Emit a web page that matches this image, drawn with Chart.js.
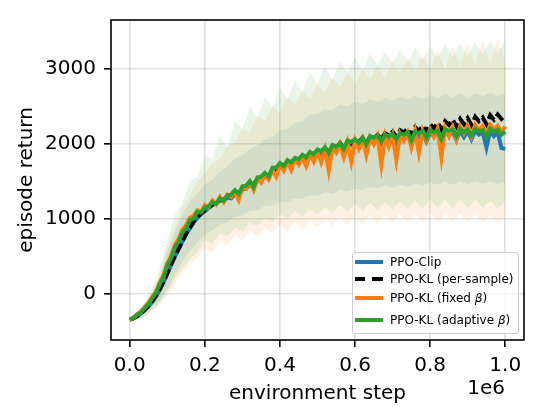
<!doctype html>
<html lang="en">
  <head>
    <meta charset="utf-8">
    <title>PPO episode return</title>
    <style>
      * {
        margin: 0;
        padding: 0;
        font-family: "DejaVu Sans", sans-serif;
      }
      body { background: white; }
      .chartBox {
        position: relative;
        width: 540px;
        height: 419px;
      }
      .legend {
        position: absolute;
        left: 352px;
        top: 252px;
        width: 165px;
        height: 80px;
        border: 1px solid #cccccc;
        border-radius: 3px;
        background: rgba(255, 255, 255, 0.8);
      }
      .row {
        position: absolute;
        left: 0;
        width: 100%;
        height: 16px;
        font-size: 12px;
        line-height: 16px;
        color: #000;
      }
      .swatch {
        position: absolute;
        left: 2px;
        top: 6px;
        width: 28px;
        height: 4px;
      }
      .row .label {
        position: absolute;
        left: 37px;
        white-space: nowrap;
      }
      .offset {
        position: absolute;
        right: 35px;
        top: 375px;
        font-size: 20px;
        color: #000;
      }
    </style>
  </head>
  <body>
    <div class="chartBox">
      <canvas id="myChart" width="540" height="419"></canvas>
      <div class="legend">
        <div class="row" style="top:1px"><div class="swatch" style="background:#1f77b4"></div><span class="label">PPO-Clip</span></div>
        <div class="row" style="top:18px"><div class="swatch" style="background:linear-gradient(to right,#000 0 10px,transparent 10px 17px,#000 17px 28px)"></div><span class="label">PPO-KL (per-sample)</span></div>
        <div class="row" style="top:37px"><div class="swatch" style="background:#ff7f0e"></div><span class="label">PPO-KL (fixed <i>β</i>)</span></div>
        <div class="row" style="top:59px"><div class="swatch" style="background:#2ca02c"></div><span class="label">PPO-KL (adaptive <i>β</i>)</span></div>
      </div>
      <div class="offset">1e6</div>
    </div>
    <script src="https://cdn.jsdelivr.net/npm/chart.js"></script>
    <script>
    // x positions: one point every 10k steps for the curves, every 20k for the bands
    const steps = [...Array(101).keys()].map(i => i * 10000);
    const bandSteps = [...Array(51).keys()].map(i => i * 20000);

    const xTicks = [0, 200000, 400000, 600000, 800000, 1000000];
    const yTicks = [0, 1000, 2000, 3000];

    // mean episode return per run
    const ppoClip = [
      -350,-330,-300,-265,-220,-170,-110,-40,50,150,
      260,380,490,590,690,790,870,950,1010,1060,
      1100,1140,1180,1200,1240,1230,1280,1270,1330,1300,
      1390,1400,1450,1430,1510,1520,1570,1540,1640,1630,
      1700,1680,1740,1730,1780,1760,1820,1790,1850,1800,
      1890,1860,1920,1850,1950,1920,1980,1880,2000,1980,
      2030,1990,2050,1940,2070,2020,2080,2000,2090,2060,
      2100,2010,2110,2080,2120,2000,2130,2090,2140,2030,
      2150,2100,2150,2020,2160,2120,2160,2050,2170,2090,
      2170,2060,2170,2120,2160,1950,2170,2100,2150,1940,
      1930
    ];
    const ppoKlSample = [
      -350,-330,-300,-262,-215,-165,-100,-30,60,160,
      270,390,500,600,700,800,880,960,1020,1070,
      1110,1150,1190,1210,1250,1250,1300,1290,1350,1320,
      1410,1420,1470,1450,1530,1540,1590,1560,1660,1650,
      1720,1700,1760,1750,1800,1780,1840,1810,1870,1830,
      1910,1880,1940,1870,1970,1950,2010,1930,2030,2010,
      2060,2020,2080,1990,2100,2070,2120,2060,2140,2110,
      2160,2090,2180,2150,2200,2110,2220,2170,2240,2160,
      2260,2200,2280,2190,2300,2250,2320,2230,2330,2260,
      2340,2250,2360,2300,2350,2260,2380,2320,2390,2330,
      2380
    ];
    const ppoKlFixed = [
      -350,-320,-275,-240,-180,-125,-45,30,150,250,
      400,500,650,730,850,910,1010,1040,1110,1090,
      1180,1150,1240,1190,1290,1220,1320,1290,1360,1250,
      1420,1400,1490,1380,1530,1480,1580,1520,1650,1560,
      1710,1640,1760,1650,1790,1720,1820,1700,1860,1760,
      1890,1750,1920,1640,1950,1880,1990,1820,2010,1760,
      2040,1930,2060,1850,2080,1990,2100,1720,2100,1960,
      2110,1780,2130,2040,2150,1950,2160,1880,2170,2050,
      2190,2090,2200,1820,2210,2100,2220,2060,2230,2140,
      2240,2100,2250,2180,2240,2130,2250,2190,2240,2150,
      2230
    ];
    const ppoKlAdaptive = [
      -350,-325,-280,-250,-190,-140,-60,10,130,220,
      380,470,620,690,820,870,980,1000,1090,1080,
      1150,1160,1220,1200,1270,1240,1310,1320,1380,1330,
      1430,1440,1500,1420,1550,1560,1610,1560,1680,1680,
      1740,1700,1780,1750,1810,1790,1850,1820,1890,1860,
      1920,1900,1950,1880,1980,1960,2000,1930,2040,2020,
      2060,2010,2080,1990,2100,2080,2110,2030,2120,2100,
      2130,2060,2140,2120,2150,2040,2160,2140,2170,2080,
      2180,2150,2170,2060,2190,2170,2190,2100,2200,2150,
      2190,2110,2200,2170,2180,2090,2200,2160,2190,2120,
      2160
    ];

    // spread bands (upper / lower edge)
    const clipUpper = [
      -330,-270,-170,-30,180,560,820,1050,1220,1330,
      1450,1520,1630,1700,1800,1850,1930,1980,2060,2090,
      2180,2200,2280,2300,2390,2400,2460,2450,2520,2500,
      2560,2530,2590,2560,2610,2580,2630,2590,2640,2600,
      2650,2610,2660,2620,2670,2620,2680,2630,2680,2640,
      2670
    ];
    const clipLower = [
      -370,-345,-290,-200,-100,60,250,420,560,680,
      790,840,920,950,1020,1040,1100,1110,1170,1170,
      1220,1220,1270,1260,1310,1300,1350,1330,1380,1360,
      1400,1380,1420,1400,1440,1410,1450,1420,1470,1440,
      1480,1450,1490,1450,1490,1460,1500,1460,1490,1460,
      1480
    ];
    const fixedUpper = [
      -320,-245,-130,20,260,620,900,1150,1300,1500,
      1600,1750,1800,1980,2000,2200,2150,2380,2300,2500,
      2420,2620,2520,2700,2600,2800,2680,2880,2750,2950,
      2800,3000,2850,3050,2880,3100,2920,3150,2950,3200,
      2980,3250,3000,3300,3020,3350,3050,3380,3060,3400,
      3080
    ];
    const fixedLower = [
      -375,-360,-310,-240,-150,-20,130,260,380,480,
      600,560,700,640,780,700,840,760,880,800,
      920,830,950,860,980,880,1000,900,1010,910,
      1030,920,1040,930,1050,940,1060,950,1060,950,
      1070,950,1070,950,1070,950,1060,940,1050,930,
      1040
    ];
    const adaptiveUpper = [
      -320,-240,-110,60,330,700,1050,1200,1500,1550,
      1850,1800,2100,1950,2300,2200,2500,2350,2620,2480,
      2750,2600,2850,2700,2950,2800,3030,2850,3100,2950,
      3150,2980,3200,3050,3230,3080,3260,3100,3280,3120,
      3300,3150,3320,3160,3340,3180,3350,3200,3370,3210,
      3380
    ];
    const adaptiveLower = [
      -370,-350,-300,-220,-120,20,200,330,450,560,
      700,660,800,760,880,830,950,900,1000,950,
      1060,990,1100,1020,1130,1050,1160,1070,1180,1090,
      1200,1100,1210,1110,1220,1120,1230,1130,1240,1130,
      1250,1140,1250,1140,1250,1140,1250,1140,1240,1130,
      1230
    ];

    const pts = (xs, ys) => xs.map((x, i) => ({ x: x, y: ys[i] }));

    function line(label, xs, ys, color, order, dash) {
      return {
        label: label,
        data: pts(xs, ys),
        borderColor: color,
        borderWidth: 4,
        borderDash: dash || [],
        pointRadius: 0,
        fill: false,
        tension: 0,
        order: order
      };
    }
    function band(xs, ys, fillColor, order, fill) {
      return {
        label: '',
        data: pts(xs, ys),
        borderColor: 'transparent',
        borderWidth: 0,
        backgroundColor: fillColor,
        pointRadius: 0,
        fill: fill,
        tension: 0,
        order: order
      };
    }

    const data = {
      datasets: [
        line('PPO-KL (adaptive β)', steps, ppoKlAdaptive, '#2ca02c', 1),
        line('PPO-KL (fixed β)', steps, ppoKlFixed, '#ff7f0e', 2),
        line('PPO-KL (per-sample)', steps, ppoKlSample, '#000000', 3, [10, 4]),
        line('PPO-Clip', steps, ppoClip, '#1f77b4', 4),
        band(bandSteps, clipLower, 'rgba(31,119,180,0.11)', 7, false),
        band(bandSteps, clipUpper, 'rgba(31,119,180,0.11)', 7, '-1'),
        band(bandSteps, fixedLower, 'rgba(255,127,14,0.11)', 6, false),
        band(bandSteps, fixedUpper, 'rgba(255,127,14,0.11)', 6, '-1'),
        band(bandSteps, adaptiveLower, 'rgba(44,160,44,0.11)', 5, false),
        band(bandSteps, adaptiveUpper, 'rgba(44,160,44,0.11)', 5, '-1')
      ]
    };

    // black frame on all four sides, drawn over the curves like matplotlib spines
    const frame = {
      id: 'frame',
      afterDatasetsDraw(chart) {
        const a = chart.chartArea;
        const ctx = chart.ctx;
        ctx.save();
        ctx.strokeStyle = '#000';
        ctx.lineWidth = 1.6;
        ctx.strokeRect(a.left, a.top, a.right - a.left, a.bottom - a.top);
        ctx.restore();
      }
    };

    const tickFont = { family: 'DejaVu Sans', size: 20 };

    const config = {
      type: 'line',
      data,
      options: {
        responsive: false,
        animation: false,
        events: [],
        layout: { padding: { top: 15, right: 16, left: 0, bottom: 0 } },
        plugins: {
          legend: { display: false },
          tooltip: { enabled: false }
        },
        scales: {
          x: {
            type: 'linear',
            min: -50000,
            max: 1050000,
            afterBuildTicks: s => { s.ticks = xTicks.map(v => ({ value: v })); },
            afterFit: s => { s.height = 79; },
            ticks: {
              autoSkip: false,
              maxRotation: 0,
              color: '#000',
              font: tickFont,
              padding: 7,
              callback: v => (v / 1e6).toFixed(1)
            },
            grid: {
              color: 'rgba(0,0,0,0.12)',
              lineWidth: 1.6,
              tickColor: '#000',
              tickLength: 7,
              tickWidth: 1.6
            },
            border: { display: false },
            title: {
              display: true,
              text: 'environment step',
              color: '#000',
              font: tickFont,
              padding: { top: 0, bottom: 13 }
            }
          },
          y: {
            type: 'linear',
            min: -620,
            max: 3650,
            afterBuildTicks: s => { s.ticks = yTicks.map(v => ({ value: v })); },
            afterFit: s => { s.width = 111; },
            ticks: {
              color: '#000',
              font: tickFont,
              padding: 8,
              callback: v => String(v)
            },
            grid: {
              color: 'rgba(0,0,0,0.12)',
              lineWidth: 1.6,
              tickColor: '#000',
              tickLength: 7,
              tickWidth: 1.6
            },
            border: { display: false },
            title: {
              display: true,
              text: 'episode return',
              color: '#000',
              font: tickFont,
              padding: { top: 15, bottom: 0 }
            }
          }
        }
      },
      plugins: [frame]
    };

    const myChart = new Chart(document.getElementById('myChart'), config);
    </script>
  </body>
</html>
